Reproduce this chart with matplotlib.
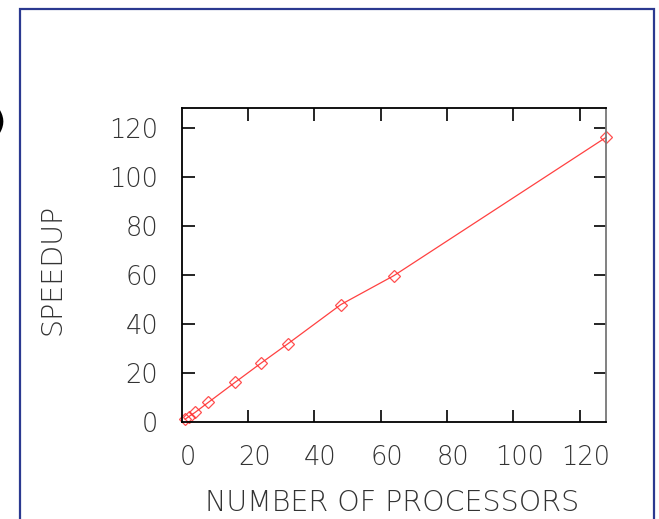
import matplotlib
matplotlib.use('Agg')
import matplotlib.pyplot as plt
import matplotlib.transforms as mtrans
from matplotlib.patches import Rectangle

### data
processors = [1, 2, 4, 8, 16, 24, 32, 48, 64, 128]
speedup = [1, 2, 3.8, 7.9, 16, 24, 31.8, 47.8, 59.6, 116]
xticks = [0, 20, 40, 60, 80, 100, 120]
yticks = [0, 20, 40, 60, 80, 100, 120]

plt.rcParams['font.family'] = ['DejaVu Sans']
plt.rcParams['font.weight'] = 200
txt_color = '#333333'

fig = plt.figure(figsize=(6.59, 5.19), dpi=100)
ax = fig.add_axes([0.276, 0.1875, 0.6436, 0.6045])

ax.plot(processors, speedup, color='#ff2020', lw=0.9, alpha=0.85,
        marker='D', ms=6, mfc='none', mec='#ff3030', mew=0.9, clip_on=False)

ax.set_xlim(0, 128)
ax.set_ylim(0, 128)
ax.set_xticks(xticks)
ax.set_yticks(yticks)
ax.tick_params(direction='in', length=9, width=1.2, top=True, right=True,
               labelsize=18.5, labelcolor=txt_color, pad=17)
# no tick mark at the origin corner
for t in ax.xaxis.get_major_ticks()[:1] + ax.yaxis.get_major_ticks()[:1]:
    t.tick1line.set_visible(False)
    t.tick2line.set_visible(False)
for s in ax.spines.values():
    s.set_linewidth(1.3)
ax.spines['right'].set_color('#777777')

# x tick labels sit a little right of their ticks in the original
shift = mtrans.ScaledTranslation(6 / 100, 0, fig.dpi_scale_trans)
for lab in ax.get_xticklabels():
    lab.set_transform(lab.get_transform() + shift)

fig.text(392 / 659, 1 - 503 / 519, 'NUMBER OF PROCESSORS', fontsize=20.5,
         color=txt_color, ha='center', va='center')
fig.text(53 / 659, 1 - 269 / 519, 'SPEEDUP', rotation=90, fontsize=20.5,
         color=txt_color, ha='center', va='center')

# blue frame around the panel
fig.patches.append(Rectangle((20 / 659, -0.05), (654 - 20) / 659, 1.05 - 9 / 519,
                             transform=fig.transFigure, fill=False,
                             edgecolor='#2b3990', lw=1.6))
fig.text(5 / 659, 1 - 123 / 519, ')', fontsize=20, color='black',
         ha='right', va='center', fontweight='bold')

plt.savefig('out.png', dpi=100)
plt.close()
